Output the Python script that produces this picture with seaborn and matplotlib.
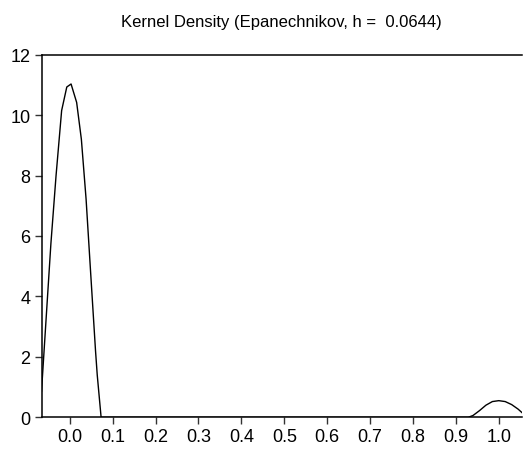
import matplotlib
matplotlib.use("Agg")
import matplotlib.pyplot as plt
import seaborn as sns
import pandas as pd

# Density curve (x, density)
peak_x = [-0.066, -0.055, -0.044, -0.032, -0.019, -0.007, 0.003, 0.016, 0.027,
          0.038, 0.049, 0.060, 0.064, 0.073]
peak_y = [0.84, 3.30, 5.75, 8.00, 10.15, 10.93, 11.03, 10.42, 9.20,
          7.22, 4.70, 2.20, 1.40, 0.00]
flat_x = [0.20, 0.40, 0.60, 0.80]
flat_y = [0.0, 0.0, 0.0, 0.0]
bump_x = [0.929, 0.940, 0.955, 0.970, 0.985, 1.000, 1.015, 1.030, 1.045, 1.056]
bump_y = [0.00, 0.06, 0.22, 0.40, 0.52, 0.55, 0.52, 0.42, 0.27, 0.13]

xticks = [0.0, 0.1, 0.2, 0.3, 0.4, 0.5, 0.6, 0.7, 0.8, 0.9, 1.0]
xtick_labels = ["0.0", "0.1", "0.2", "0.3", "0.4", "0.5", "0.6", "0.7", "0.8", "0.9", "1.0"]
yticks = [0, 2, 4, 6, 8, 10, 12]
title = "Kernel Density (Epanechnikov, h =  0.0644)"

df = pd.DataFrame({"x": peak_x + flat_x + bump_x,
                   "density": peak_y + flat_y + bump_y})

sns.set_style("white")
plt.rcParams["font.family"] = ["Liberation Sans", "DejaVu Sans"]
plt.rcParams["text.color"] = "black"

fig = plt.figure(figsize=(5.23, 4.52), dpi=100)
ax = fig.add_axes([0.0797, 0.0746, 0.9183, 0.8022])
sns.lineplot(data=df, x="x", y="density", ax=ax, color="black", linewidth=1.0,
             sort=True, estimator=None)

ax.set_xlim(-0.0655, 1.054)
ax.set_ylim(0, 12)
ax.set_xticks(xticks)
ax.set_xticklabels(xtick_labels)
ax.set_yticks(yticks)
ax.set_xlabel("")
ax.set_ylabel("")
ax.set_title(title, fontsize=12, pad=20.5, color="black")

for side in ["left", "top", "bottom"]:
    ax.spines[side].set_visible(True)
    ax.spines[side].set_color("black")
    ax.spines[side].set_linewidth(1.1)
ax.spines["right"].set_visible(False)

ax.tick_params(axis="both", which="both", direction="out", length=5, width=1,
               color="#333333", labelsize=13, labelcolor="black", pad=3,
               bottom=True, left=True, top=False, right=False)

fig.savefig("out.png", dpi=100)
